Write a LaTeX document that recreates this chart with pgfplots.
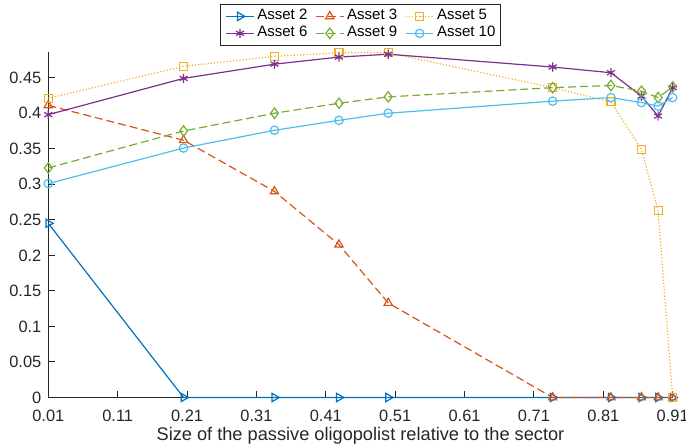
\documentclass[border=0pt]{standalone}
\usepackage{fontspec}
\setmainfont{Liberation Sans}
\usepackage{pgfplots}
\pgfplotsset{compat=1.18}
\definecolor{c1}{rgb}{0,0.447,0.741}
\definecolor{c2}{rgb}{0.85,0.325,0.098}
\definecolor{c3}{rgb}{0.929,0.694,0.125}
\definecolor{c4}{rgb}{0.494,0.184,0.556}
\definecolor{c5}{rgb}{0.466,0.674,0.188}
\definecolor{c6}{rgb}{0.301,0.745,0.933}
\definecolor{axc}{rgb}{0.15,0.15,0.15}
\begin{document}
\begin{tikzpicture}
\begin{axis}[
  scale only axis, width=312.2pt, height=172.7pt,
  xmin=0.01, xmax=0.91, ymin=0, ymax=0.486,
  axis lines*=left,
  axis line style={axc, line width=0.5pt},
  xtick={0.01,0.11,0.21,0.31,0.41,0.51,0.61,0.71,0.81,0.91},
  ytick={0,0.05,0.1,0.15,0.2,0.25,0.3,0.35,0.4,0.45},
  scaled x ticks=false, scaled y ticks=false,
  tick align=inside, major tick length=3.3pt,
  tick style={axc, line width=0.5pt},
  ticklabel style={font=\fontsize{8.2}{9.8}\selectfont, text=axc},
  xticklabel style={/pgf/number format/fixed, /pgf/number format/fixed zerofill, /pgf/number format/precision=2, /pgf/number format/assume math mode=true, anchor=base, yshift=-12.1pt},
  yticklabel style={/pgf/number format/fixed, /pgf/number format/precision=2, /pgf/number format/assume math mode=true, anchor=east, inner sep=0pt, xshift=-3.3pt},
  xlabel={Size of the passive oligopolist relative to the sector},
  xlabel style={at={(axis description cs:0.5,0)}, anchor=base, yshift=-21.75pt, font=\fontsize{9.1}{11}\selectfont, text=axc},
  clip=false,
  legend columns=3,
  legend style={at={(axis description cs:0.5,1)}, anchor=south, yshift=3.2pt, draw=axc, line width=0.5pt, font=\fontsize{7.5}{8.8}\selectfont, text=black, inner xsep=2.3pt, inner ysep=1.67pt,
    nodes={inner xsep=0pt, inner ysep=0pt, text height=5.6pt, text depth=2.9pt},
    /tikz/every odd column/.append style={column sep=1.5pt},
    /tikz/every even column/.append style={column sep=4pt}},
  legend cell align=left,
  legend image code/.code={\draw[mark repeat=2, mark phase=2, #1] plot coordinates {(0pt,0pt) (6.9pt,0pt) (13.8pt,0pt)};},
]
\addplot[color=c1, solid, line width=0.6pt, mark=triangle, mark size=2.4pt, mark options={solid, rotate=-90}] coordinates {
(0.01,0.245) (0.205,0) (0.336,0) (0.429,0) (0.5,0) (0.737,0) (0.821,0) (0.865,0) (0.889,0) (0.91,0)};
\addlegendentry{Asset 2}
\addplot[color=c2, dash pattern=on 4pt off 2pt, line width=0.6pt, mark=triangle, mark size=2.4pt, mark options={solid}] coordinates {
(0.01,0.411) (0.205,0.362) (0.336,0.290) (0.429,0.215) (0.5,0.133) (0.737,0) (0.821,0) (0.865,0) (0.889,0) (0.91,0)};
\addlegendentry{Asset 3}
\addplot[color=c3, dash pattern=on 0.6pt off 1pt, line width=0.6pt, mark=square, mark size=2pt, mark options={solid}] coordinates {
(0.01,0.421) (0.205,0.466) (0.336,0.480) (0.429,0.485) (0.5,0.485) (0.737,0.436) (0.821,0.416) (0.865,0.349) (0.889,0.263) (0.91,0)};
\addlegendentry{Asset 5}
\addplot[color=c4, solid, line width=0.6pt, mark=asterisk, mark size=2.3pt, mark options={solid}] coordinates {
(0.01,0.398) (0.205,0.449) (0.336,0.469) (0.429,0.479) (0.5,0.483) (0.737,0.465) (0.821,0.457) (0.865,0.424) (0.889,0.396) (0.91,0.436)};
\addlegendentry{Asset 6}
\addplot[color=c5, dash pattern=on 4pt off 2pt, line width=0.6pt, mark=diamond, mark size=2.6pt, mark options={solid}] coordinates {
(0.01,0.323) (0.205,0.375) (0.336,0.400) (0.429,0.414) (0.5,0.423) (0.737,0.436) (0.821,0.439) (0.865,0.431) (0.889,0.422) (0.91,0.437)};
\addlegendentry{Asset 9}
\addplot[color=c6, solid, line width=0.6pt, mark=o, mark size=2.1pt, mark options={solid}] coordinates {
(0.01,0.301) (0.205,0.351) (0.336,0.376) (0.429,0.390) (0.5,0.400) (0.737,0.417) (0.821,0.422) (0.865,0.415) (0.889,0.410) (0.91,0.422)};
\addlegendentry{Asset 10}
\end{axis}
\pgfresetboundingbox
\useasboundingbox (-24.15pt,-23.25pt) rectangle (318.85pt,198.75pt);
\end{tikzpicture}
\end{document}
